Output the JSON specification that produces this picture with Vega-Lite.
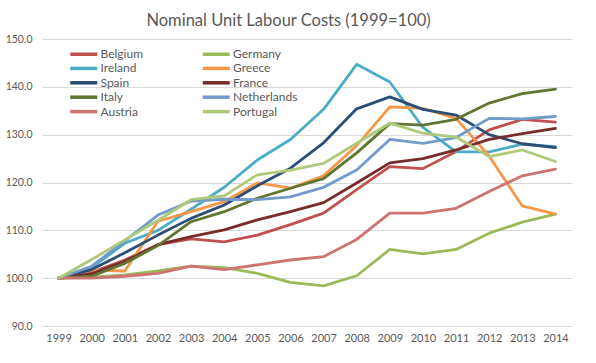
{
  "$schema": "https://vega.github.io/schema/vega-lite/v6.json",
  "autosize": "none",
  "width": 530,
  "height": 287,
  "padding": {"left": 42, "top": 39, "right": 24, "bottom": 37},
  "background": "white",
  "config": {
    "view": {"stroke": null},
    "font": "Lato",
    "title": {"font": "Lato", "fontSize": 16.5, "fontWeight": "normal", "color": "#595959", "frame": "bounds", "offset": 5}
  },
  "title": {"text": "Nominal Unit Labour Costs (1999=100)", "anchor": "middle"},
  "datasets": {
    "ulc": [
      {"country":"Belgium","year":"1999","value":100},{"country":"Belgium","year":"2000","value":101.2},{"country":"Belgium","year":"2001","value":103.8},{"country":"Belgium","year":"2002","value":107.0},{"country":"Belgium","year":"2003","value":108.2},{"country":"Belgium","year":"2004","value":107.6},{"country":"Belgium","year":"2005","value":109.0},{"country":"Belgium","year":"2006","value":111.2},{"country":"Belgium","year":"2007","value":113.6},{"country":"Belgium","year":"2008","value":118.5},{"country":"Belgium","year":"2009","value":123.3},{"country":"Belgium","year":"2010","value":122.9},{"country":"Belgium","year":"2011","value":126.5},{"country":"Belgium","year":"2012","value":131.0},{"country":"Belgium","year":"2013","value":133.2},{"country":"Belgium","year":"2014","value":132.6},
      {"country":"Germany","year":"1999","value":100},{"country":"Germany","year":"2000","value":100.2},{"country":"Germany","year":"2001","value":100.7},{"country":"Germany","year":"2002","value":101.5},{"country":"Germany","year":"2003","value":102.5},{"country":"Germany","year":"2004","value":102.2},{"country":"Germany","year":"2005","value":101.0},{"country":"Germany","year":"2006","value":99.1},{"country":"Germany","year":"2007","value":98.4},{"country":"Germany","year":"2008","value":100.5},{"country":"Germany","year":"2009","value":106.0},{"country":"Germany","year":"2010","value":105.1},{"country":"Germany","year":"2011","value":106.0},{"country":"Germany","year":"2012","value":109.4},{"country":"Germany","year":"2013","value":111.7},{"country":"Germany","year":"2014","value":113.4},
      {"country":"Ireland","year":"1999","value":100},{"country":"Ireland","year":"2000","value":102.2},{"country":"Ireland","year":"2001","value":107.3},{"country":"Ireland","year":"2002","value":110.0},{"country":"Ireland","year":"2003","value":114.4},{"country":"Ireland","year":"2004","value":119.0},{"country":"Ireland","year":"2005","value":124.7},{"country":"Ireland","year":"2006","value":129.0},{"country":"Ireland","year":"2007","value":135.3},{"country":"Ireland","year":"2008","value":144.7},{"country":"Ireland","year":"2009","value":141.0},{"country":"Ireland","year":"2010","value":131.5},{"country":"Ireland","year":"2011","value":126.4},{"country":"Ireland","year":"2012","value":126.4},{"country":"Ireland","year":"2013","value":128.0},{"country":"Ireland","year":"2014","value":127.5},
      {"country":"Greece","year":"1999","value":100},{"country":"Greece","year":"2000","value":101.7},{"country":"Greece","year":"2001","value":101.5},{"country":"Greece","year":"2002","value":111.9},{"country":"Greece","year":"2003","value":113.9},{"country":"Greece","year":"2004","value":116.0},{"country":"Greece","year":"2005","value":119.9},{"country":"Greece","year":"2006","value":118.8},{"country":"Greece","year":"2007","value":121.4},{"country":"Greece","year":"2008","value":127.7},{"country":"Greece","year":"2009","value":135.8},{"country":"Greece","year":"2010","value":135.5},{"country":"Greece","year":"2011","value":133.4},{"country":"Greece","year":"2012","value":125.5},{"country":"Greece","year":"2013","value":115.1},{"country":"Greece","year":"2014","value":113.4},
      {"country":"Spain","year":"1999","value":100},{"country":"Spain","year":"2000","value":101.8},{"country":"Spain","year":"2001","value":105.3},{"country":"Spain","year":"2002","value":109.0},{"country":"Spain","year":"2003","value":112.5},{"country":"Spain","year":"2004","value":115.3},{"country":"Spain","year":"2005","value":119.3},{"country":"Spain","year":"2006","value":123.0},{"country":"Spain","year":"2007","value":128.3},{"country":"Spain","year":"2008","value":135.4},{"country":"Spain","year":"2009","value":137.9},{"country":"Spain","year":"2010","value":135.3},{"country":"Spain","year":"2011","value":134.1},{"country":"Spain","year":"2012","value":130.0},{"country":"Spain","year":"2013","value":128.1},{"country":"Spain","year":"2014","value":127.3},
      {"country":"France","year":"1999","value":100},{"country":"France","year":"2000","value":100.9},{"country":"France","year":"2001","value":103.5},{"country":"France","year":"2002","value":107.0},{"country":"France","year":"2003","value":108.7},{"country":"France","year":"2004","value":110.1},{"country":"France","year":"2005","value":112.2},{"country":"France","year":"2006","value":113.9},{"country":"France","year":"2007","value":115.8},{"country":"France","year":"2008","value":119.9},{"country":"France","year":"2009","value":124.1},{"country":"France","year":"2010","value":125.0},{"country":"France","year":"2011","value":126.8},{"country":"France","year":"2012","value":129.0},{"country":"France","year":"2013","value":130.2},{"country":"France","year":"2014","value":131.3},
      {"country":"Italy","year":"1999","value":100},{"country":"Italy","year":"2000","value":100.4},{"country":"Italy","year":"2001","value":103.1},{"country":"Italy","year":"2002","value":106.8},{"country":"Italy","year":"2003","value":111.8},{"country":"Italy","year":"2004","value":113.9},{"country":"Italy","year":"2005","value":116.7},{"country":"Italy","year":"2006","value":118.8},{"country":"Italy","year":"2007","value":120.8},{"country":"Italy","year":"2008","value":126.2},{"country":"Italy","year":"2009","value":132.3},{"country":"Italy","year":"2010","value":132.0},{"country":"Italy","year":"2011","value":133.2},{"country":"Italy","year":"2012","value":136.6},{"country":"Italy","year":"2013","value":138.6},{"country":"Italy","year":"2014","value":139.5},
      {"country":"Netherlands","year":"1999","value":100},{"country":"Netherlands","year":"2000","value":102.5},{"country":"Netherlands","year":"2001","value":107.8},{"country":"Netherlands","year":"2002","value":113.2},{"country":"Netherlands","year":"2003","value":116.1},{"country":"Netherlands","year":"2004","value":116.5},{"country":"Netherlands","year":"2005","value":116.4},{"country":"Netherlands","year":"2006","value":117.0},{"country":"Netherlands","year":"2007","value":119.0},{"country":"Netherlands","year":"2008","value":122.6},{"country":"Netherlands","year":"2009","value":129.0},{"country":"Netherlands","year":"2010","value":128.2},{"country":"Netherlands","year":"2011","value":129.4},{"country":"Netherlands","year":"2012","value":133.4},{"country":"Netherlands","year":"2013","value":133.3},{"country":"Netherlands","year":"2014","value":133.8},
      {"country":"Austria","year":"1999","value":100},{"country":"Austria","year":"2000","value":100.0},{"country":"Austria","year":"2001","value":100.4},{"country":"Austria","year":"2002","value":101.0},{"country":"Austria","year":"2003","value":102.5},{"country":"Austria","year":"2004","value":101.8},{"country":"Austria","year":"2005","value":102.8},{"country":"Austria","year":"2006","value":103.8},{"country":"Austria","year":"2007","value":104.5},{"country":"Austria","year":"2008","value":108.1},{"country":"Austria","year":"2009","value":113.6},{"country":"Austria","year":"2010","value":113.6},{"country":"Austria","year":"2011","value":114.6},{"country":"Austria","year":"2012","value":118.1},{"country":"Austria","year":"2013","value":121.4},{"country":"Austria","year":"2014","value":122.8},
      {"country":"Portugal","year":"1999","value":100},{"country":"Portugal","year":"2000","value":103.9},{"country":"Portugal","year":"2001","value":108.0},{"country":"Portugal","year":"2002","value":112.1},{"country":"Portugal","year":"2003","value":116.4},{"country":"Portugal","year":"2004","value":117.2},{"country":"Portugal","year":"2005","value":121.6},{"country":"Portugal","year":"2006","value":122.6},{"country":"Portugal","year":"2007","value":124.0},{"country":"Portugal","year":"2008","value":128.2},{"country":"Portugal","year":"2009","value":132.4},{"country":"Portugal","year":"2010","value":130.3},{"country":"Portugal","year":"2011","value":129.5},{"country":"Portugal","year":"2012","value":125.4},{"country":"Portugal","year":"2013","value":126.8},{"country":"Portugal","year":"2014","value":124.4}
    ]
  },
  "data": {"name": "ulc"},
  "mark": {"type": "line", "strokeWidth": 2.8, "strokeJoin": "round", "strokeCap": "round"},
  "encoding": {
    "x": {
      "field": "year", "type": "ordinal", "title": null,
      "scale": {"type": "point", "padding": 0.5},
      "axis": {"labelAngle": 0, "ticks": false, "domain": false, "grid": false, "labelFont": "Lato", "labelFontSize": 11, "labelColor": "#595959", "labelPadding": 6}
    },
    "y": {
      "field": "value", "type": "quantitative", "title": null,
      "scale": {"domain": [90, 150], "nice": false, "zero": false},
      "axis": {"values": [90, 100, 110, 120, 130, 140, 150], "format": ".1f", "ticks": false, "domain": false, "gridColor": "#D9D9D9", "gridWidth": 1, "labelFont": "Lato", "labelFontSize": 10.5, "labelColor": "#595959", "labelPadding": 10}
    },
    "color": {
      "field": "country", "type": "nominal", "title": null,
      "scale": {
        "domain": ["Belgium","Germany","Ireland","Greece","Spain","France","Italy","Netherlands","Austria","Portugal"],
        "range": ["#C0504D","#9BBB59","#4BACC6","#F79646","#2C4D75","#772C2A","#5F7530","#729ACA","#CD7371","#AFC97A"]
      },
      "legend": {
        "orient": "none", "direction": "horizontal", "legendX": 35.25, "legendY": 8.5, "columns": 2, "columnPadding": 52.5, "rowPadding": -0.6,
        "symbolType": "M-3,0H3", "symbolSize": 81, "symbolStrokeWidth": 3.5, "symbolFillColor": "transparent",
        "labelFont": "Lato", "labelFontSize": 12, "labelColor": "#595959", "labelOffset": 10.25
      }
    }
  }
}
